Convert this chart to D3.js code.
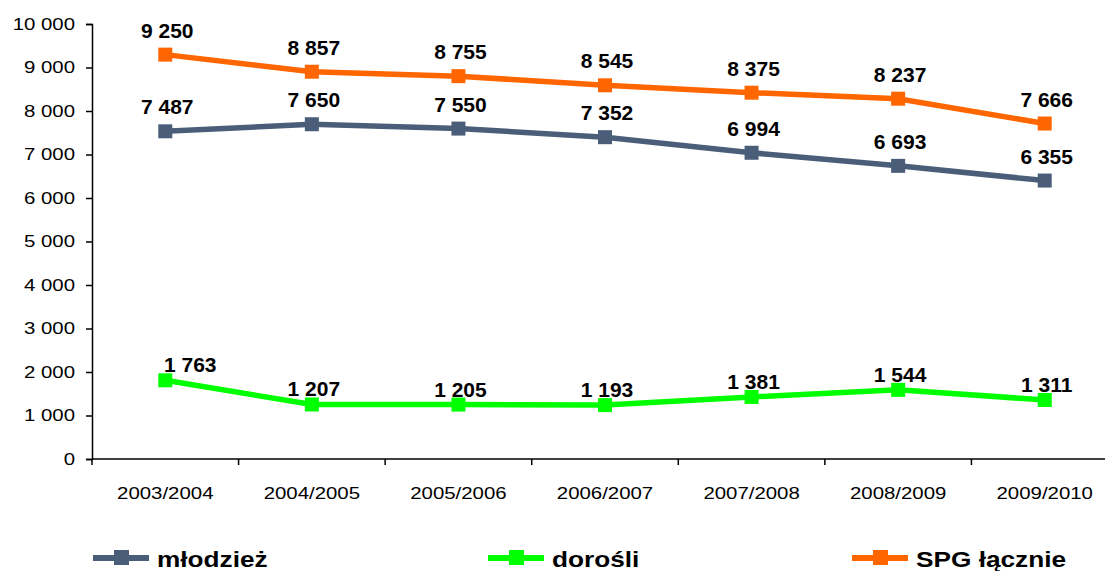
<!DOCTYPE html>
<html>
<head>
<meta charset="utf-8">
<script src="https://cdn.jsdelivr.net/npm/d3@7"></script>
<style>
  body { margin: 0; background: #fff; }
  svg { font-family: "Liberation Sans", Arial, sans-serif; }
</style>
</head>
<body>
<div id="chart"></div>
<script>
var years = ["2003/2004", "2004/2005", "2005/2006", "2006/2007", "2007/2008", "2008/2009", "2009/2010"];
var mlodziez = [7487, 7650, 7550, 7352, 6994, 6693, 6355];
var dorosli = [1763, 1207, 1205, 1193, 1381, 1544, 1311];
var spgLacznie = [9250, 8857, 8755, 8545, 8375, 8237, 7666];
var yTicks = [0, 1000, 2000, 3000, 4000, 5000, 6000, 7000, 8000, 9000, 10000];

var series = [
    { name: "młodzież", values: mlodziez, color: "#4A5E7A", labelDy: -19, legendX: 93 },
    { name: "dorośli", values: dorosli, color: "#00FF00", labelDy: -10, legendX: 488 },
    { name: "SPG łącznie", values: spgLacznie, color: "#FF6600", labelDy: -19, legendX: 852 }
];

var width = 1105, height = 571;
var fmt = function(v) { return d3.format(",")(v).replace(/,/g, " "); };

var svg = d3.select("#chart").append("svg")
    .attr("width", width)
    .attr("height", height);

var xScale = d3.scaleBand()
    .domain(years)
    .range([92, 1118]);

var yScale = d3.scaleLinear()
    .domain([0, 10000])
    .range([459, 24]);

// y axis
var yAxis = svg.append("g")
    .attr("transform", "translate(92,0)")
    .call(d3.axisLeft(yScale).tickValues(yTicks).tickSize(6).tickFormat(fmt));
yAxis.select(".domain").attr("stroke", "#000").attr("stroke-width", 1.5);
yAxis.selectAll(".tick line").attr("stroke", "#000").attr("stroke-width", 1.5);
yAxis.selectAll(".tick text")
    .attr("x", -17 / 1.2)
    .attr("transform", "scale(1.2,1)")
    .style("font-size", "17px")
    .attr("fill", "#000");

// x axis, ticks at category boundaries
var xAxis = svg.append("g")
    .attr("transform", "translate(0,459)");
xAxis.append("line")
    .attr("x1", 92).attr("x2", width)
    .attr("stroke", "#000").attr("stroke-width", 1.5);
xAxis.selectAll("line.tk")
    .data(years)
    .enter()
    .append("line")
    .attr("class", "tk")
    .attr("x1", d => xScale(d)).attr("x2", d => xScale(d))
    .attr("y1", 0).attr("y2", 6)
    .attr("stroke", "#000").attr("stroke-width", 1.5);
xAxis.selectAll("text")
    .data(years)
    .enter()
    .append("text")
    .attr("transform", d => "translate(" + (xScale(d) + xScale.bandwidth() / 2) + ",40) scale(1.2,1)")
    .attr("text-anchor", "middle")
    .style("font-size", "17px")
    .text(d => d);

var cx = function(i) { return xScale(years[i]) + xScale.bandwidth() / 2; };

var line = d3.line()
    .x((d, i) => cx(i))
    .y(d => yScale(d));

// series lines sit a touch above the tick grid, as in the source
series.forEach(function(s) {
    var g = svg.append("g").attr("transform", "translate(0,-2)");
    g.append("path")
        .datum(s.values)
        .attr("d", line)
        .attr("fill", "none")
        .attr("stroke", s.color)
        .attr("stroke-width", 5.5);
    g.selectAll("rect")
        .data(s.values)
        .enter()
        .append("rect")
        .attr("x", (d, i) => cx(i) - 7)
        .attr("y", d => yScale(d) - 7)
        .attr("width", 14)
        .attr("height", 14)
        .attr("fill", s.color);
});

// data labels drawn on top
series.forEach(function(s) {
    svg.append("g").selectAll("text")
        .data(s.values)
        .enter()
        .append("text")
        .attr("x", (d, i) => cx(i) + (s.name === "dorośli" && i === 0 ? 25 : 2))
        .attr("y", d => yScale(d) + s.labelDy)
        .attr("text-anchor", "middle")
        .style("font-size", "21px")
        .style("font-weight", "bold")
        .text(d => fmt(d));
});

// legend
var legend = svg.append("g").attr("class", "legend");
series.forEach(function(s) {
    var lg = legend.append("g").attr("transform", "translate(" + s.legendX + ",558)");
    lg.append("line")
        .attr("x1", 0).attr("x2", 56)
        .attr("stroke", s.color).attr("stroke-width", 6);
    lg.append("rect")
        .attr("x", 21).attr("y", -8)
        .attr("width", 15).attr("height", 15)
        .attr("fill", s.color);
    lg.append("text")
        .attr("transform", "translate(64,9) scale(1.22,1)")
        .style("font-size", "21.5px")
        .style("font-weight", "bold")
        .text(s.name);
});
</script>
</body>
</html>
